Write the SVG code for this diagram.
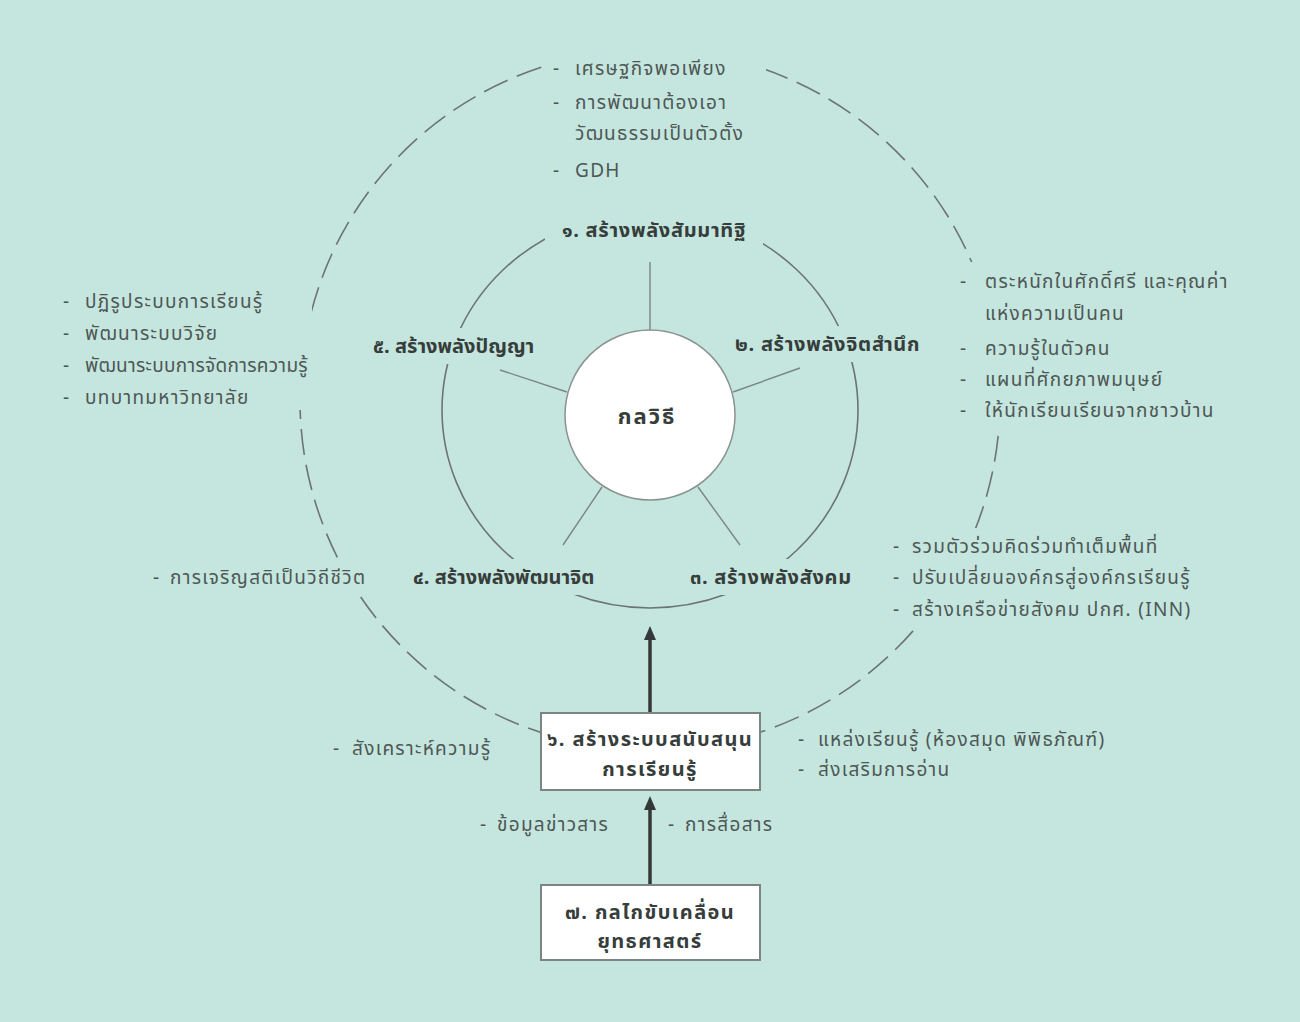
<svg xmlns="http://www.w3.org/2000/svg" width="1300" height="1022" viewBox="0 0 1300 1022">
<style>
.bg{fill:#c4e6de}
.mask{fill:#c4e6de;stroke:none}
.t{font-family:"Noto Sans Thai","Noto Sans","DejaVu Sans",sans-serif;font-size:19px;letter-spacing:1.3px;fill:#4e5755}
.b{font-family:"Noto Sans Thai","Noto Sans","DejaVu Sans",sans-serif;font-size:20px;letter-spacing:0.7px;font-weight:bold;fill:#363d3b}
.bx{font-size:20px;letter-spacing:1.4px}
.c{text-anchor:middle}
.ring{fill:none;stroke:#6d7472;stroke-width:1.6}
.dash{fill:none;stroke:#6d7472;stroke-width:1.6;stroke-dasharray:26 10}
.spoke{stroke:#7d8583;stroke-width:1.4}
.box{fill:#ffffff;stroke:#7d8583;stroke-width:2}
.arr{stroke:#343938;stroke-width:3.5}
</style>
<defs>
<marker id="ah" markerWidth="14" markerHeight="12" refX="4" refY="6" orient="auto" markerUnits="userSpaceOnUse" viewBox="0 0 14 12">
<path d="M0,0 L14,6 L0,12 z" fill="#343938"/>
</marker>
</defs>
<rect class="bg" x="0" y="0" width="1300" height="1022"/>
<g id="rings">
<circle class="dash" cx="650" cy="400" r="350"/>
<ellipse class="ring" cx="650" cy="410" rx="208" ry="198"/>
</g>
<g id="connectors">
<line class="spoke" x1="650" y1="262" x2="650" y2="332"/>
<line class="spoke" x1="733" y1="392" x2="800" y2="368"/>
<line class="spoke" x1="567" y1="392" x2="500" y2="370"/>
<line class="spoke" x1="602" y1="487" x2="563" y2="545"/>
<line class="spoke" x1="698" y1="487" x2="740" y2="545"/>
<line class="arr" x1="650" y1="713" x2="650" y2="636" marker-end="url(#ah)"/>
<line class="arr" x1="650" y1="885" x2="650" y2="806" marker-end="url(#ah)"/>
</g>
<g id="center">
<circle cx="650" cy="415" r="85" fill="#ffffff" stroke="#8a9290" stroke-width="1.5"/>
<text class="b c bx" x="647" y="424" style="font-size:22px;letter-spacing:2px">กลวิธี</text>
</g>
<g id="node1">
<rect class="mask" x="545" y="206" width="218" height="42"/>
<text class="b c" x="654" y="237">๑. สร้างพลังสัมมาทิฐิ</text>
</g>
<g id="node2">
<rect class="mask" x="730" y="326" width="200" height="36"/>
<text class="b" x="735" y="351">๒. สร้างพลังจิตสำนึก</text>
</g>
<g id="node3">
<rect class="mask" x="685" y="559" width="178" height="36"/>
<text class="b" x="690" y="584">๓. สร้างพลังสังคม</text>
</g>
<g id="node4">
<rect class="mask" x="408" y="559" width="190" height="36"/>
<text class="b" x="413" y="584" style="letter-spacing:0px">๔. สร้างพลังพัฒนาจิต</text>
</g>
<g id="node5">
<rect class="mask" x="368" y="328" width="170" height="36"/>
<text class="b" x="373" y="353" style="letter-spacing:0px">๕. สร้างพลังปัญญา</text>
</g>
<g id="notes-top">
<rect class="mask" x="548" y="45" width="218" height="140"/>
<text class="t" x="553" y="75">-</text><text class="t" x="575" y="75">เศรษฐกิจพอเพียง</text>
<text class="t" x="553" y="109">-</text><text class="t" x="575" y="109">การพัฒนาต้องเอา</text>
<text class="t" x="575" y="140">วัฒนธรรมเป็นตัวตั้ง</text>
<text class="t" x="553" y="177">-</text><text class="t" x="575" y="177">GDH</text>
</g>
<g id="notes-left">
<rect class="mask" x="60" y="282" width="252" height="128"/>
<text class="t" x="63" y="308">-</text><text class="t" x="85" y="308">ปฏิรูประบบการเรียนรู้</text>
<text class="t" x="63" y="340">-</text><text class="t" x="85" y="340">พัฒนาระบบวิจัย</text>
<text class="t" x="63" y="372">-</text><text class="t" x="85" y="372" style="letter-spacing:0.3px">พัฒนาระบบการจัดการความรู้</text>
<text class="t" x="63" y="404">-</text><text class="t" x="85" y="404">บทบาทมหาวิทยาลัย</text>
</g>
<g id="notes-right">
<rect class="mask" x="955" y="262" width="275" height="164"/>
<text class="t" x="960" y="288">-</text><text class="t" x="985" y="288">ตระหนักในศักดิ์ศรี และคุณค่า</text>
<text class="t" x="985" y="320">แห่งความเป็นคน</text>
<text class="t" x="960" y="355">-</text><text class="t" x="985" y="355">ความรู้ในตัวคน</text>
<text class="t" x="960" y="386">-</text><text class="t" x="985" y="386">แผนที่ศักยภาพมนุษย์</text>
<text class="t" x="960" y="417">-</text><text class="t" x="985" y="417">ให้นักเรียนเรียนจากชาวบ้าน</text>
</g>
<g id="notes-lower-left">
<rect class="mask" x="150" y="560" width="222" height="32"/>
<text class="t" x="153" y="584">-</text><text class="t" x="170" y="584">การเจริญสติเป็นวิถีชีวิต</text>
</g>
<g id="notes-lower-right">
<rect class="mask" x="890" y="528" width="305" height="98"/>
<text class="t" x="893" y="553">-</text><text class="t" x="912" y="553">รวมตัวร่วมคิดร่วมทำเต็มพื้นที่</text>
<text class="t" x="893" y="584">-</text><text class="t" x="912" y="584">ปรับเปลี่ยนองค์กรสู่องค์กรเรียนรู้</text>
<text class="t" x="893" y="616">-</text><text class="t" x="912" y="616">สร้างเครือข่ายสังคม ปกศ. (INN)</text>
</g>
<g id="node6">
<rect class="box" x="541" y="713" width="219" height="77"/>
<text class="b c bx" x="650" y="746">๖. สร้างระบบสนับสนุน</text>
<text class="b c bx" x="650" y="776">การเรียนรู้</text>
</g>
<g id="notes-node6">
<rect class="mask" x="330" y="731" width="175" height="32"/>
<text class="t" x="333" y="755">-</text><text class="t" x="352" y="755">สังเคราะห์ความรู้</text>
<rect class="mask" x="796" y="720" width="312" height="64"/>
<text class="t" x="798" y="746">-</text><text class="t" x="818" y="746">แหล่งเรียนรู้ (ห้องสมุด พิพิธภัณฑ์)</text>
<text class="t" x="798" y="776">-</text><text class="t" x="818" y="776">ส่งเสริมการอ่าน</text>
<text class="t" x="480" y="831">-</text><text class="t" x="497" y="831">ข้อมูลข่าวสาร</text>
<text class="t" x="668" y="831">-</text><text class="t" x="685" y="831">การสื่อสาร</text>
</g>
<g id="node7">
<rect class="box" x="541" y="885" width="219" height="75"/>
<text class="b c bx" x="650" y="919">๗. กลไกขับเคลื่อน</text>
<text class="b c bx" x="650" y="948">ยุทธศาสตร์</text>
</g>
</svg>
